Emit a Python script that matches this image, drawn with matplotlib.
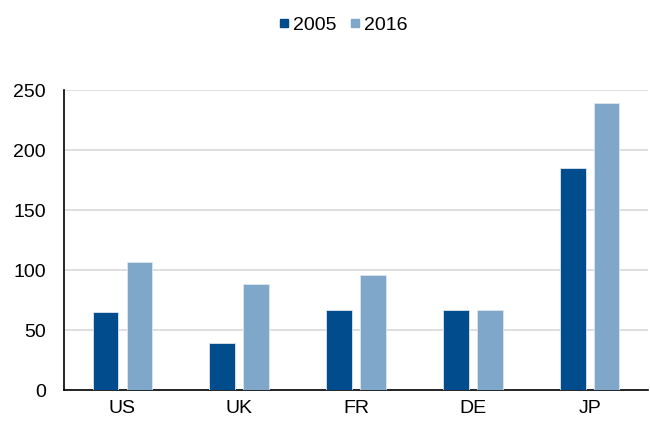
import numpy as np
import matplotlib.pyplot as plt
from matplotlib.lines import Line2D

plt.rcParams['font.family'] = ['Liberation Sans', 'DejaVu Sans']

countries = ["US", "UK", "FR", "DE", "JP"]
vals_2005 = [65, 39, 67, 67, 185]
vals_2016 = [107, 88, 96, 67, 239]
dark, light = "#004C8C", "#7FA7C9"

fig = plt.figure(figsize=(6.5, 4.23), dpi=100)
ax = fig.add_axes([0.0985, 0.078, 0.8985, 0.709])

x = np.arange(len(countries))
w = 0.22
ax.bar(x - 0.145, vals_2005, w, color=dark, edgecolor="#dde6ef",
       linewidth=0.6, zorder=3)
ax.bar(x + 0.145, vals_2016, w, color=light, edgecolor="#dde6ef",
       linewidth=0.6, zorder=3)

ax.set_xlim(-0.5, len(countries) - 0.5)
ax.set_ylim(0, 250)
ax.set_yticks(range(0, 251, 50))
ax.set_xticks(x)
ax.set_xticklabels(countries)
ax.tick_params(axis="both", length=0, labelsize=14, colors="#000000")
ax.tick_params(axis="y", pad=13)
ax.tick_params(axis="x", pad=7)
ax.yaxis.grid(True, color="#d9d9d9", linewidth=1.2, zorder=0)

for s in ["top", "right"]:
    ax.spines[s].set_visible(False)
ax.spines["left"].set_linewidth(1.2)
ax.spines["bottom"].set_linewidth(1.2)

# square legend markers
handles = [Line2D([], [], marker="s", linestyle="none", markersize=5.2,
                  color=c, label=l) for c, l in [(dark, "2005"), (light, "2016")]]
fig.legend(handles=handles, loc="center", bbox_to_anchor=(0.529, 0.94), ncol=2,
           frameon=False, fontsize=14, handlelength=0.38,
           handletextpad=0.3, columnspacing=0.75)

fig.savefig("out.png", dpi=100)
